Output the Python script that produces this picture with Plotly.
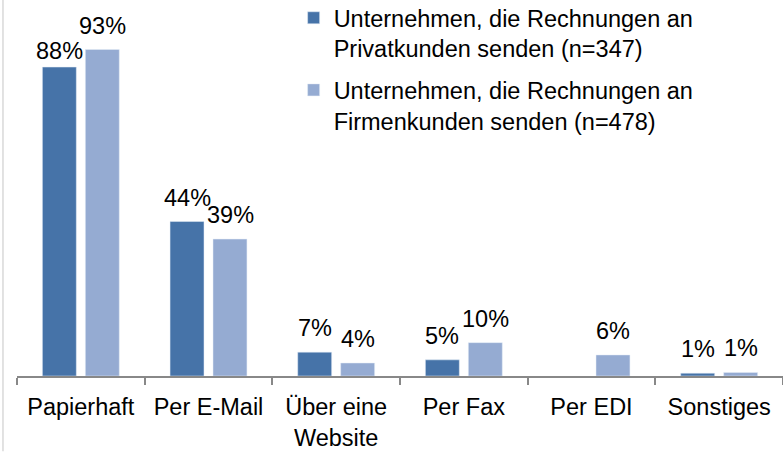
import plotly.graph_objects as go

categories = ["Papierhaft", "Per E-Mail", "Über eine<br>Website", "Per Fax", "Per EDI", "Sonstiges"]
privat = [88, 44, 6.8, 4.6, None, 0.8]
firmen = [93, 39, 3.7, 9.5, 6, 1.0]
name_privat = "Unternehmen, die Rechnungen an<br>Privatkunden senden (n=347)"
name_firmen = "Unternehmen, die Rechnungen an<br>Firmenkunden senden (n=478)"

FONT = "Liberation Sans, Arial, sans-serif"
FS = 23.5
DARK = "#4673A8"
LIGHT = "#95ABD2"
AXIS = "#888888"
BAR_SHIFT = 21.5      # px offset of each bar from the category centre
LABEL_LIFT = 9        # px gap between bar top and its label
LABEL_NUDGE = {("privat", 0): -8}   # the 88% label sits a little lower in the original

fig = go.Figure()
fig.add_trace(go.Bar(x=categories, y=privat, name=name_privat, marker_color=DARK, legendgroup="a",
                     cliponaxis=False))
fig.add_trace(go.Bar(x=categories, y=firmen, name=name_firmen, marker_color=LIGHT, legendgroup="b",
                     cliponaxis=False))

for key, vals, sign in (("privat", privat, -1), ("firmen", firmen, 1)):
    for i, (cat, v) in enumerate(zip(categories, vals)):
        if v is None:
            continue
        fig.add_annotation(x=cat, y=v, xref="x", yref="y", text=f"{v:.0f}%", showarrow=False,
                           xanchor="center", yanchor="bottom", xshift=sign * BAR_SHIFT,
                           yshift=LABEL_LIFT + LABEL_NUDGE.get((key, i), 0),
                           font=dict(size=FS, family=FONT, color="#000000"))

fig.update_layout(
    width=783, height=452,
    margin=dict(l=17, r=0, t=0, b=76, autoexpand=False),
    paper_bgcolor="white", plot_bgcolor="white",
    font=dict(family=FONT, size=FS, color="#000000"),
    barmode="group", bargap=0.327, bargroupgap=0.21,
    showlegend=True,
    legend=dict(xref="paper", yref="paper", x=(0.375 * 783 - 17) / 766, y=1.0 + 4 / 376,
                xanchor="left", yanchor="top",
                valign="top", bgcolor="rgba(0,0,0,0)", font=dict(size=FS, family=FONT),
                tracegroupgap=8, itemwidth=30),
)
fig.update_xaxes(showline=True, linecolor=AXIS, linewidth=2, ticks="outside", tickson="boundaries",
                 ticklen=7, tickwidth=2, tickcolor=AXIS, showgrid=False, zeroline=False,
                 tickangle=0, automargin=False, ticklabelstandoff=9,
                 tickfont=dict(size=FS, family=FONT, color="#000000"))
fig.update_yaxes(range=[0, 107.1], visible=False, showgrid=False, zeroline=False, automargin=False)

fig.add_shape(type="line", xref="paper", yref="paper", x0=-0.0183, x1=-0.0183, y0=-0.2, y1=1.01,
              line=dict(color="#D9D9D9", width=1.5))

fig.write_html("out.html", config={"displayModeBar": False},
               post_script="document.body.style.margin='0';document.body.style.overflow='hidden';")
